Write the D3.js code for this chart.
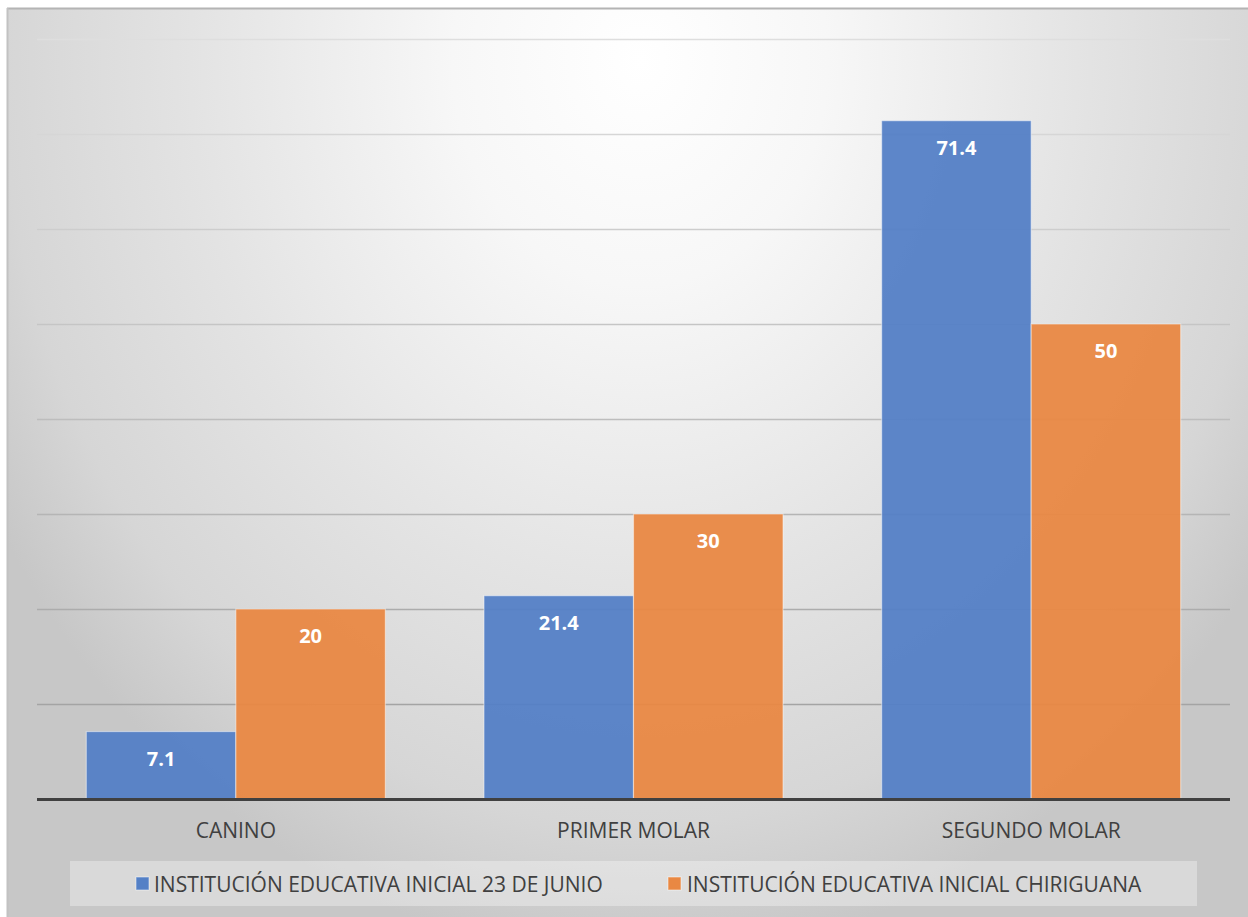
<!DOCTYPE html>
<html>
<head>
<meta charset="utf-8">
<script src="https://cdnjs.cloudflare.com/ajax/libs/d3/7.8.5/d3.min.js"></script>
<style>
  html, body { margin: 0; padding: 0; background: #ffffff; }
  svg { display: block; }
  text { font-family: "Open Sans", "Noto Sans", sans-serif; }
</style>
</head>
<body>
<svg id="chart" width="1248" height="917"></svg>
<script>
// Categories and series (percent)
const categories = ["CANINO", "PRIMER MOLAR", "SEGUNDO MOLAR"];
const seriesNames = ["INSTITUCIÓN EDUCATIVA INICIAL 23 DE JUNIO", "INSTITUCIÓN EDUCATIVA INICIAL CHIRIGUANA"];
const junioValues = [7.1, 21.4, 71.4];
const chiriguanaValues = [20, 30, 50];
const gridTicks = [10, 20, 30, 40, 50, 60, 70, 80];
const seriesColors = ["#5480c6", "#e98843"];

const W = 1248, H = 917;
const svg = d3.select("#chart");

// Background: soft radial gradient, white near top centre, grey toward the edges
const defs = svg.append("defs");
const grad = defs.append("radialGradient")
  .attr("id", "bg")
  .attr("gradientUnits", "userSpaceOnUse")
  .attr("cx", 640).attr("cy", 60).attr("r", 750)
  .attr("gradientTransform", "translate(640,60) scale(1,1.2) translate(-640,-60)");
[[0, "#ffffff"], [0.25, "#f7f7f7"], [0.6, "#e3e3e3"], [0.85, "#d6d6d6"], [1, "#c7c7c7"]]
  .forEach(([o, c]) => grad.append("stop").attr("offset", o).attr("stop-color", c));

svg.append("rect").attr("x", 7).attr("y", 8).attr("width", W - 7).attr("height", H - 8)
  .attr("fill", "url(#bg)");
// frame edges
svg.append("line").attr("x1", 7).attr("x2", W).attr("y1", 8.5).attr("y2", 8.5)
  .attr("stroke", "#b4b4b4").attr("stroke-width", 2);
svg.append("line").attr("x1", 7.5).attr("x2", 7.5).attr("y1", 8).attr("y2", H)
  .attr("stroke", "#c2c2c2").attr("stroke-width", 2);

// Scales
const x0 = d3.scaleBand().domain(categories).range([37, 1230]).paddingInner(0.248).paddingOuter(0.124);
const x1 = d3.scaleBand().domain([0, 1]).range([0, x0.bandwidth()]);
const y = d3.scaleLinear().domain([0, 80]).range([799, 39]);

// Gridlines (tone darkens slightly down the plot)
const gridTone = d3.scaleLinear().domain([80, 10]).range(["#dedede", "#a4a4a4"]);
svg.append("g").selectAll("line").data(gridTicks).join("line")
  .attr("x1", 37).attr("x2", 1230)
  .attr("y1", d => Math.round(y(d)) + 0.5).attr("y2", d => Math.round(y(d)) + 0.5)
  .attr("stroke", d => gridTone(d)).attr("stroke-width", 1.3);

// Bars
const rows = categories.map((c, i) => ({ cat: c, vals: [junioValues[i], chiriguanaValues[i]] }));
const groups = svg.append("g").selectAll("g").data(rows).join("g")
  .attr("transform", d => `translate(${x0(d.cat)},0)`);

groups.selectAll("rect").data(d => d.vals.map((v, s) => ({ v, s }))).join("rect")
  .attr("x", d => x1(d.s))
  .attr("width", x1.bandwidth())
  .attr("y", d => y(d.v))
  .attr("height", d => y(0) - y(d.v))
  .attr("fill", d => seriesColors[d.s])
  .attr("fill-opacity", 0.95)
  .attr("stroke", "#ffffff").attr("stroke-opacity", 0.45).attr("stroke-width", 1.2);

// Value labels inside the top of each bar
groups.selectAll("text.val").data(d => d.vals.map((v, s) => ({ v, s }))).join("text")
  .attr("class", "val")
  .attr("x", d => x1(d.s) + x1.bandwidth() / 2)
  .attr("y", d => y(d.v) + 27)
  .attr("dy", "0.36em")
  .attr("text-anchor", "middle")
  .attr("fill", "#ffffff")
  .attr("font-weight", 700)
  .attr("font-size", 20)
  .text(d => d.v);

// Baseline
svg.append("line").attr("x1", 37).attr("x2", 1230).attr("y1", y(0) + 0.5).attr("y2", y(0) + 0.5)
  .attr("stroke", "#404040").attr("stroke-width", 3);

// Category axis labels
const xAxis = d3.axisBottom(x0).tickSize(0).tickPadding(0);
const ax = svg.append("g").attr("transform", `translate(0,${y(0)})`).call(xAxis);
ax.select(".domain").remove();
ax.selectAll("text")
  .attr("y", 31).attr("dy", "0.36em")
  .attr("font-size", 21)
  .attr("font-family", "'Open Sans', sans-serif")
  .attr("fill", "#404040");

// Legend
svg.append("rect").attr("x", 70).attr("y", 861).attr("width", 1127).attr("height", 45)
  .attr("fill", "#ffffff").attr("fill-opacity", 0.33);

const legendItems = [{ name: seriesNames[0], sx: 136, tx: 154 }, { name: seriesNames[1], sx: 668, tx: 687 }];
const lg = svg.append("g").selectAll("g").data(legendItems).join("g");
lg.append("rect")
  .attr("x", d => d.sx).attr("y", 877).attr("width", 13).attr("height", 13)
  .attr("fill", (d, i) => seriesColors[i])
  .attr("stroke", "#ffffff").attr("stroke-opacity", 0.5).attr("stroke-width", 1);
const lt = lg.append("text")
  .attr("x", d => d.tx).attr("y", 884).attr("dy", "0.36em")
  .attr("fill", "#404040").attr("font-size", 20)
  .text(d => d.name);
// size the legend type so the first entry spans its slot
const firstLen = lt.nodes()[0].getComputedTextLength();
lt.attr("font-size", 20 * 449 / firstLen);
</script>
</body>
</html>
